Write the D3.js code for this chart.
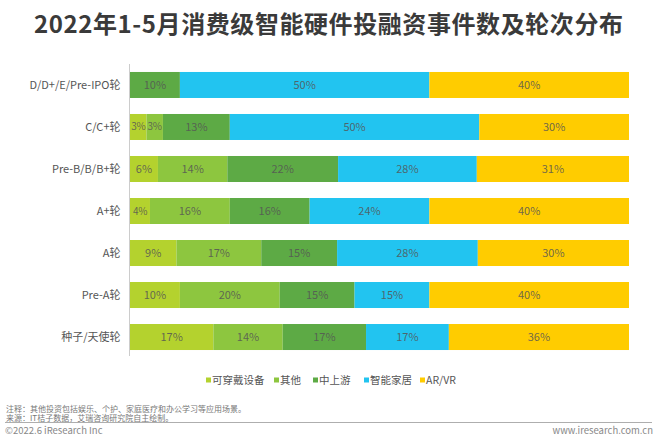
<!DOCTYPE html>
<html><head><meta charset="utf-8">
<script src="https://cdn.jsdelivr.net/npm/d3@7"></script>
<style>
html,body{margin:0;padding:0;background:#fff;}
svg{display:block;font-family:"Noto Sans CJK SC","Noto Sans",sans-serif;}
</style></head>
<body>
<svg id="c" width="660" height="444"></svg>
<script>
const categories = ["D/D+/E/Pre-IPO轮","C/C+轮","Pre-B/B/B+轮","A+轮","A轮","Pre-A轮","种子/天使轮"];
const seriesNames = ["可穿戴设备","其他","中上游","智能家居","AR/VR"];
const seriesColors = ["#b4d22e","#8dc63f","#5daa45","#22c4f0","#ffcc00"];
const wearable   = [0, 3.3, 5.6, 4, 9.3, 10, 16.7];
const other      = [0, 3.3, 13.9, 16, 17, 20, 13.9];
const upstream   = [10, 13.4, 22.2, 16, 15.2, 15, 16.7];
const smartHome  = [50, 50, 27.8, 24, 28.2, 15, 16.6];
const arvr       = [40, 30, 30.5, 40, 30.3, 40, 36.1];
const title = "2022年1-5月消费级智能硬件投融资事件数及轮次分布";
const notes = ["注释：其他投资包括娱乐、个护、家庭医疗和办公学习等应用场景。","来源：IT桔子数据，艾瑞咨询研究院自主绘制。"];

const seriesVals = [wearable, other, upstream, smartHome, arvr];
const rows = categories.map((c,i)=>{
  const o = {cat:c};
  seriesNames.forEach((s,j)=>o[s]=seriesVals[j][i]);
  return o;
});
const stack = d3.stack().keys(seriesNames)(rows);

const svg = d3.select("#c");
const x = d3.scaleLinear().domain([0,100]).range([130,629]);
const y = d3.scaleBand().domain(categories).range([64,358]).paddingInner(0.381).paddingOuter(0.19);

svg.append("text").attr("x",34).attr("y",33)
  .attr("font-size",24).attr("font-weight","bold").attr("fill","#3a3a3a")
  .attr("textLength",589).attr("lengthAdjust","spacing").text(title);

const g = svg.append("g");
stack.forEach((layer,j)=>{
  const lg = g.append("g");
  lg.selectAll("rect").data(layer).join("rect")
    .attr("x",d=>x(d[0])).attr("y",d=>y(d.data.cat))
    .attr("width",d=>Math.max(0,x(d[1])-x(d[0]))).attr("height",y.bandwidth())
    .attr("fill",seriesColors[j]);
  lg.selectAll("text").data(layer.filter(d=>d[1]-d[0]>0)).join("text")
    .attr("x",d=>(x(d[0])+x(d[1]))/2).attr("y",d=>y(d.data.cat)+y.bandwidth()/2)
    .attr("dy","0.35em").attr("text-anchor","middle")
    .attr("font-size",d=>(d[1]-d[0])<5?10:11)
    .attr("letter-spacing",d=>(d[1]-d[0])<5?"-0.3":null)
    .attr("fill","#555").attr("fill-opacity",0.85)
    .text(d=>Math.round(d[1]-d[0])+"%");
});

// category axis
const ax = svg.append("g").attr("transform","translate(129.5,0)")
  .call(d3.axisLeft(y).tickSize(0).tickPadding(9));
ax.select(".domain").attr("stroke","#ccc").attr("d","M0,64V356");
ax.selectAll("text").attr("font-size",11).attr("fill","#555")
  .attr("font-family",'"Noto Sans CJK SC","Noto Sans",sans-serif');

// legend
const legX = [206,274,313,364,420];
const lgd = svg.append("g");
seriesNames.forEach((s,i)=>{
  lgd.append("rect").attr("x",legX[i]).attr("y",377.5).attr("width",5).attr("height",5).attr("fill",seriesColors[i]);
  lgd.append("text").attr("x",legX[i]+6).attr("y",380).attr("dy","0.35em")
    .attr("font-size",10.5).attr("fill","#555").text(s);
});

// footer
notes.forEach((n,i)=>{
  svg.append("text").attr("x",6).attr("y",412+i*9).attr("font-size",8).attr("fill","#777").text(n);
});
svg.append("line").attr("x1",5).attr("x2",652).attr("y1",422.5).attr("y2",422.5).attr("stroke","#999").attr("stroke-width",0.8);
svg.append("text").attr("x",5).attr("y",434).attr("font-size",9.5).attr("fill","#888").text("©2022.6 iResearch Inc");
svg.append("text").attr("x",653).attr("y",434).attr("text-anchor","end").attr("font-size",9.5).attr("fill","#888").text("www.iresearch.com.cn");
</script>
</body></html>
